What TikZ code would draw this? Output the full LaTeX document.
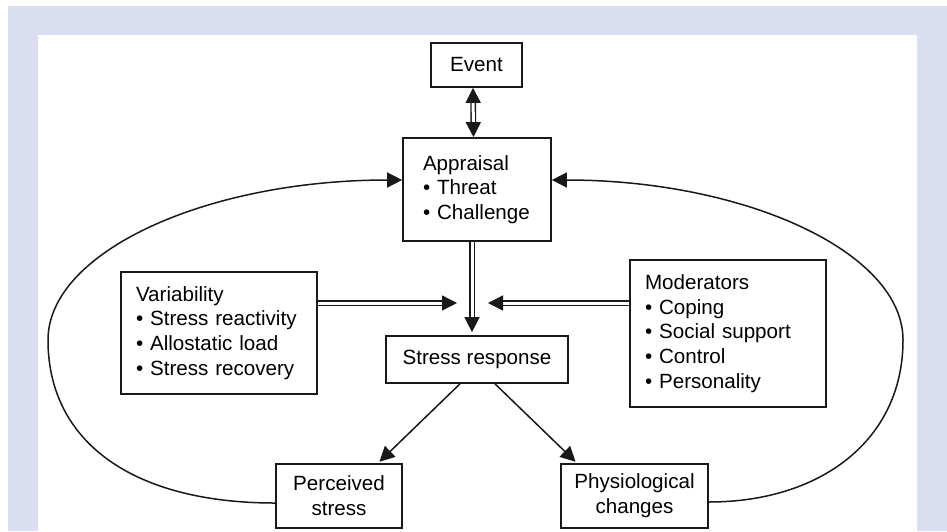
\documentclass[tikz,border=0pt]{standalone}
\usepackage{fontspec}
\setmainfont{Liberation Sans}
\usepackage{tikz}
\usetikzlibrary{
  arrows.meta,
  positioning
}
\definecolor{PanelLilac}{RGB}{218, 222, 240}
\definecolor{InkBlack}{RGB}{25, 25, 25}
\tikzset{
    stagebox/.style={draw=InkBlack, line width=1.7pt, fill=white, inner ysep=0pt,
        font=\fontsize{20.6}{24.8}\selectfont},
    listbox/.style={stagebox, align=left},
    flow/.style={draw=InkBlack, line width=1.5pt, -{Triangle[length=15pt,width=15pt]}},
    dflow/.style={draw=InkBlack, line width=1.4pt, double=white, double distance=3pt,
        -{Triangle[length=15pt,width=15pt]}},
}

\begin{document}
\begin{tikzpicture}[x=1pt, y=-1pt]
    \useasboundingbox (0,0) rectangle (947,531);
    % panel
    \fill[PanelLilac] (8,6) rectangle (947,531);
    \fill[white] (38,35) rectangle (917,531);

    % boxes
    \node[stagebox, minimum width=91pt, minimum height=44pt] (event) at (476.5,65) {Event};
    \node[listbox, text width=108pt, inner xsep=20pt, minimum height=103pt] (appraisal) at (477,189.5)
        {Appraisal\\• Threat\\• Challenge};
    \node[stagebox, minimum width=182pt, minimum height=47pt] (response) at (477,359.5) {Stress response};
    \node[listbox, text width=166pt, inner xsep=15pt, minimum height=122pt] (variability) at (219,333)
        {Variability\\• Stress reactivity\\• Allostatic load\\• Stress recovery};
    \node[listbox, text width=166pt, inner xsep=15pt, minimum height=147pt] (moderators) at (728,333.5)
        {Moderators\\• Coping\\• Social support\\• Control\\• Personality};
    \node[stagebox, align=center, minimum width=126pt, minimum height=64pt] (perceived) at (339,496)
        {Perceived\\stress};
    \node[stagebox, align=center, minimum width=147pt, minimum height=64pt] (physio) at (634.5,496)
        {Physiological\\changes};

    \coordinate (meetL) at (457,303);
    \coordinate (meetR) at (488,303);
    \coordinate (loopL) at (48,340);
    \coordinate (loopR) at (903,340);

    % double arrows
    \draw[dflow, {Triangle[length=15pt,width=15pt]}-{Triangle[length=15pt,width=15pt]}]
        ([xshift=-3.5pt]event.south) -- ([xshift=-3.5pt]appraisal.north);
    \draw[dflow, shorten >=3pt] ([xshift=-5pt]appraisal.south) -- ([xshift=-5pt]response.north);
    \draw[dflow] ([yshift=30pt]variability.east) -- (meetL);
    \draw[dflow] ([yshift=30.5pt]moderators.west) -- (meetR);

    % outcomes
    \draw[flow, shorten >=2pt] ([xshift=-17pt]response.south) -- ([xshift=39pt]perceived.north);
    \draw[flow, shorten >=2pt] ([xshift=18pt]response.south) -- ([xshift=-57.5pt]physio.north);

    % feedback loops
    \draw[flow] ([yshift=-7pt]perceived.west) .. controls (130,503) and (48,440) .. (loopL)
        .. controls (48,252) and (206,180) .. ([yshift=9.5pt]appraisal.west);
    \draw[flow] ([yshift=-6pt]physio.east) .. controls (821,502) and (903,440) .. (loopR)
        .. controls (903,252) and (745,180) .. ([yshift=9.5pt]appraisal.east);
\end{tikzpicture}
\end{document}
